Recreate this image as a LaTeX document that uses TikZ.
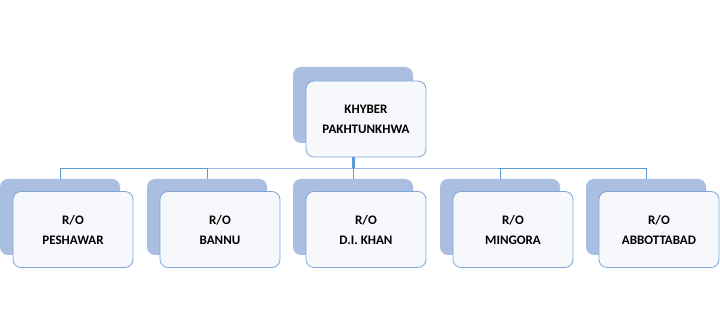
\documentclass[tikz,border=0pt]{standalone}
\usepackage{fontspec}
\setmainfont{Carlito}
\definecolor{backfill}{HTML}{A9BEE0}
\definecolor{frontline}{HTML}{7EA7D8}
\definecolor{frontfill}{HTML}{F6F8FC}
\definecolor{conn}{HTML}{5B9BD5}
\begin{document}
\begin{tikzpicture}[x=1pt,y=-1pt,
  backbox/.style={draw=none,fill=backfill,rounded corners=8pt,minimum width=120pt,minimum height=76pt,inner sep=0pt},
  frontbox/.style={draw=frontline,line width=0.8pt,fill=frontfill,rounded corners=8pt,minimum width=120pt,minimum height=76pt,inner sep=0pt,align=center,font=\bfseries\fontsize{13}{20}\selectfont},
  link/.style={draw=conn,line width=0.9pt}]
\useasboundingbox (0,0) rectangle (720,336);
% top
\node[backbox] (tb) at (353,105) {};
\node[frontbox] (tf) at (366,119) {KHYBER\\PAKHTUNKHWA};
\coordinate (hub) at (353,168);
% children
\foreach \i/\name/\xb in {1/PESHAWAR/60,2/BANNU/207,3/D.I. KHAN/353,4/MINGORA/500,5/ABBOTTABAD/646}{
  \node[backbox] (b\i) at (\xb,217) {};
  \node[frontbox] (f\i) at (\xb+13,229.5) {R/O\\\name};
}
\draw[conn,line width=3pt] (353,157) -- (hub);
\draw[link] (b1.north) |- (hub) -| (b5.north);
\draw[link] (hub) -- (b3.north);
\draw[link] (hub -| b2.north) -- (b2.north);
\draw[link] (hub -| b4.north) -- (b4.north);
\end{tikzpicture}
\end{document}
